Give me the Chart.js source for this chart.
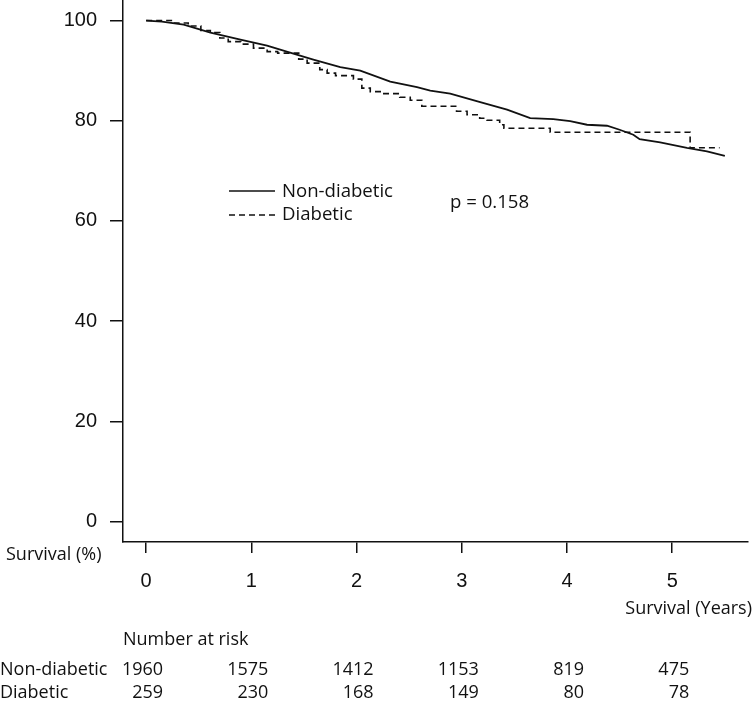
<!DOCTYPE html>
<html>
<head>
<meta charset="utf-8">
<script src="https://cdn.jsdelivr.net/npm/chart.js@4.4.1/dist/chart.umd.min.js"></script>
<style>
  body { margin: 0; background: #fff; }
  #wrap { width: 754px; height: 701px; }
</style>
</head>
<body>
<div id="wrap"><canvas id="kmChart" width="754" height="701"></canvas></div>
<script>
// survival curves (years, % surviving)
const nonDiabeticTimes = [0, 0.15, 0.357, 0.611, 0.896, 1.149, 1.368, 1.589, 1.845, 2.035, 2.32, 2.574, 2.70, 2.89, 3.175, 3.43, 3.65, 3.87, 4.03, 4.19, 4.38, 4.50, 4.63, 4.69, 4.885, 5.14, 5.33, 5.50]
const nonDiabeticSurv = [100, 99.8, 99.2, 97.6, 96.2, 95.0, 93.6, 92.2, 90.7, 90.0, 87.8, 86.7, 86.0, 85.4, 83.7, 82.2, 80.5, 80.3, 79.9, 79.2, 79.0, 78.2, 77.2, 76.3, 75.7, 74.6, 73.9, 73.0]

const diabeticTimes = [0, 0.25, 0.40, 0.52, 0.61, 0.70, 0.78, 0.90, 1.02, 1.15, 1.25, 1.45, 1.53, 1.65, 1.72, 1.80, 1.97, 2.05, 2.13, 2.25, 2.41, 2.51, 2.62, 2.95, 3.05, 3.17, 3.24, 3.36, 3.40, 3.84, 5.17, 5.45]
const diabeticSurv = [100, 99.5, 98.9, 98.0, 97.6, 96.5, 95.8, 95.3, 94.5, 93.8, 93.5, 92.3, 91.5, 90.2, 89.5, 89.0, 88.3, 86.5, 85.8, 85.4, 84.7, 84.1, 82.9, 81.9, 81.2, 80.5, 80.1, 79.2, 78.5, 77.7, 74.6, 74.6]

const xTicks = [0, 1, 2, 3, 4, 5]
const yTicks = [0, 20, 40, 60, 80, 100]

// number at risk table
const riskTimes = [0, 1, 2, 3, 4, 5]
const riskNonDiabetic = [1960, 1575, 1412, 1153, 819, 475]
const riskDiabetic = [259, 230, 168, 149, 80, 78]

const groupNames = ['Non-diabetic', 'Diabetic']
const pValueText = 'p = 0.158'

const toPoints = (xs, ys) => xs.map((x, i) => ({ x: x, y: ys[i] }))

const textFont = '"Open Sans", "Noto Sans", sans-serif'

// no extra room round the plot, the axes go to the canvas edge
const noPadding = (scale) => {
    scale.paddingTop = 0
    scale.paddingBottom = 0
    scale.paddingLeft = 0
    scale.paddingRight = 0
}

// extra texts: legend, p value, axis titles and the risk table
const annotations = {
    id: 'annotations',
    afterDraw(chart) {
        const ctx = chart.ctx
        const xs = chart.scales.x
        ctx.save()
        ctx.fillStyle = '#111'
        ctx.strokeStyle = '#111'
        ctx.textBaseline = 'middle'

        // legend
        ctx.lineWidth = 1.5
        ctx.setLineDash([])
        ctx.beginPath()
        ctx.moveTo(229, 191)
        ctx.lineTo(275, 191)
        ctx.stroke()
        ctx.setLineDash([6, 4])
        ctx.beginPath()
        ctx.moveTo(229, 215)
        ctx.lineTo(275, 215)
        ctx.stroke()
        ctx.setLineDash([])
        ctx.font = '18.6px ' + textFont
        ctx.textAlign = 'left'
        ctx.fillText(groupNames[0], 282, 192)
        ctx.fillText(groupNames[1], 282, 215)
        ctx.fillText(pValueText, 450, 203)

        // axis titles
        ctx.font = '18px ' + textFont
        ctx.fillText('Survival (%)', 6, 555)
        ctx.textAlign = 'right'
        ctx.fillText('Survival (Years)', 752, 609)

        // number at risk
        ctx.textAlign = 'left'
        ctx.fillText('Number at risk', 123, 640)
        ctx.fillText(groupNames[0], 0, 670)
        ctx.fillText(groupNames[1], 0, 693)
        ctx.textAlign = 'right'
        riskTimes.forEach((t, i) => {
            const px = xs.getPixelForValue(t) + 17
            ctx.fillText(String(riskNonDiabetic[i]), px, 670)
            ctx.fillText(String(riskDiabetic[i]), px, 693)
        })
        ctx.restore()
    }
}

const config = {
    type: 'line',
    data: {
        datasets: [{
            label: groupNames[0],
            data: toPoints(nonDiabeticTimes, nonDiabeticSurv),
            borderColor: '#111',
            borderWidth: 1.8,
            pointRadius: 0,
            tension: 0,
            fill: false
        }, {
            label: groupNames[1],
            data: toPoints(diabeticTimes, diabeticSurv),
            borderColor: '#111',
            borderWidth: 1.6,
            borderDash: [6, 4],
            pointRadius: 0,
            stepped: 'before',
            fill: false
        }]
    },
    options: {
        responsive: false,
        animation: false,
        layout: { padding: { left: 0, right: 6, top: 0, bottom: 0 } },
        plugins: {
            legend: { display: false },
            tooltip: { enabled: false }
        },
        scales: {
            x: {
                type: 'linear',
                min: -0.22,
                max: 5.72,
                afterFit: (scale) => { scale.height = 159; noPadding(scale) },
                afterBuildTicks: (scale) => { scale.ticks = xTicks.map(v => ({ value: v })) },
                border: { display: true, color: '#111', width: 1.5 },
                grid: { display: true, drawOnChartArea: false, drawTicks: true, tickLength: 11, color: '#111', lineWidth: 1.5 },
                ticks: {
                    color: '#111',
                    padding: 16,
                    maxRotation: 0,
                    font: { family: '"Liberation Sans", Arial, sans-serif', size: 20 }
                }
            },
            y: {
                type: 'linear',
                min: -4.1,
                max: 104.1,
                afterFit: (scale) => { scale.width = 123; noPadding(scale) },
                afterBuildTicks: (scale) => { scale.ticks = yTicks.map(v => ({ value: v })) },
                border: { display: true, color: '#111', width: 1.5 },
                grid: { display: true, drawOnChartArea: false, drawTicks: true, tickLength: 13, color: '#111', lineWidth: 1.5 },
                ticks: {
                    color: '#111',
                    padding: 13,
                    font: { family: '"Liberation Sans", Arial, sans-serif', size: 20 }
                }
            }
        }
    },
    plugins: [annotations]
}

document.addEventListener('DOMContentLoaded', () => {
    new Chart(document.querySelector('#kmChart'), config)
})
</script>
</body>
</html>
